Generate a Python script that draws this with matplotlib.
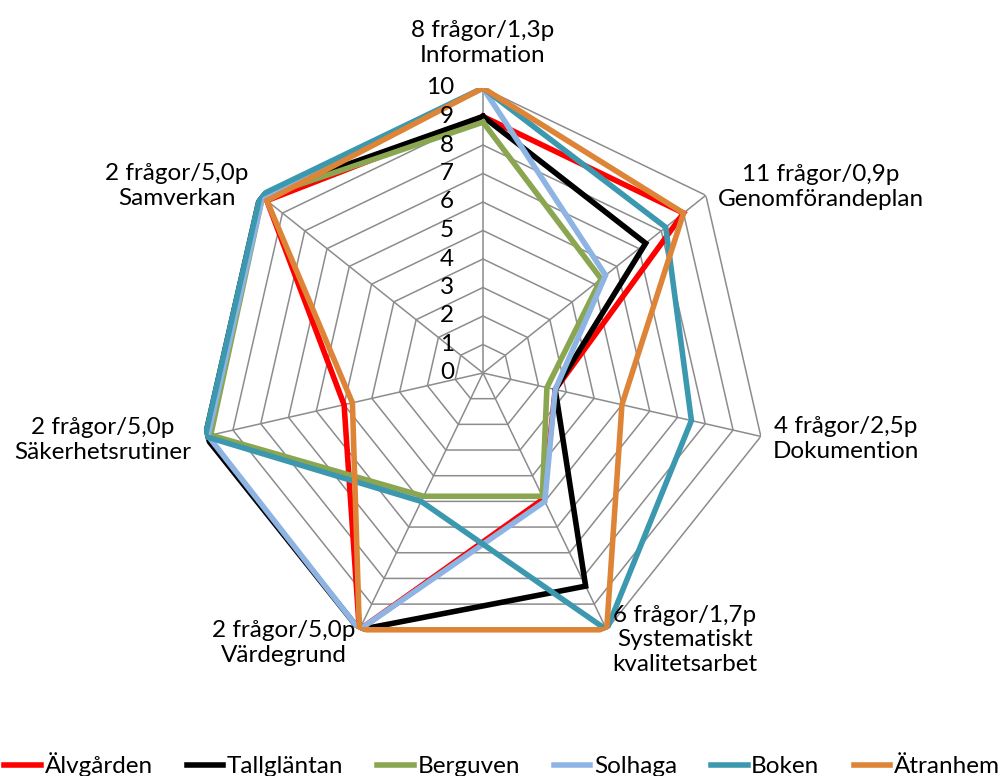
import numpy as np
import matplotlib
matplotlib.use("Agg")
import matplotlib.pyplot as plt
from matplotlib.transforms import offset_copy
from matplotlib.lines import Line2D

categories = ["Information", "Genomförandeplan", "Dokumention",
              "Systematiskt\nkvalitetsarbet", "Värdegrund", "Säkerhetsrutiner", "Samverkan"]
subtitles = ["8 frågor/1,3p", "11 frågor/0,9p", "4 frågor/2,5p", "6 frågor/1,7p",
             "2 frågor/5,0p", "2 frågor/5,0p", "2 frågor/5,0p"]
series_names = ["Älvgården", "Tallgläntan", "Berguven", "Solhaga", "Boken", "Ätranhem"]
alvgarden = [9.0, 9.0, 2.6, 4.9, 10, 5.0, 9.7]
tallglantan = [9.0, 7.3, 2.6, 8.3, 10, 10, 10]
berguven = [8.8, 5.3, 2.3, 4.8, 4.8, 9.8, 9.9]
solhaga = [10, 5.5, 2.6, 5.0, 10, 9.9, 9.9]
boken = [10, 8.2, 7.5, 10, 5.0, 10, 10]
atranhem = [10, 9.0, 5.0, 10, 10, 4.7, 9.7]
series_values = [alvgarden, tallglantan, berguven, solhaga, boken, atranhem]
colors = ["#FF0000", "#000000", "#8AA650", "#8EB4E3", "#3C98AF", "#DD8437"]
radial_ticks = list(range(0, 11))

FONT = ["Lato", "DejaVu Sans"]
plt.rcParams['font.family'] = FONT

W, H = 1004, 776
fig = plt.figure(figsize=(W / 100, H / 100), dpi=100)
cx, cy, R = 483, 373, 285
ax = fig.add_axes([(cx - R) / W, 1 - (cy + R) / H, 2 * R / W, 2 * R / H], projection='polar')
ax.set_theta_zero_location('N')
ax.set_theta_direction(-1)
ax.set_ylim(0, 10)
ax.grid(False)
ax.spines['polar'].set_visible(False)
ax.set_xticks([])
ax.set_yticks([])
ax.patch.set_alpha(0)

n = len(categories)
angles = np.arange(n) * 2 * np.pi / n
ang_closed = np.append(angles, angles[0])

grid_col = "#8C8C8C"
for r in radial_ticks[1:]:
    ax.plot(ang_closed, [r] * (n + 1), color=grid_col, lw=1.1, zorder=1)
for a in angles:
    ax.plot([a, a], [0, 10], color=grid_col, lw=1.1, zorder=1)

LW = 4.0
for vals, col in zip(series_values, colors):
    v = np.append(vals, vals[0])
    ax.plot(ang_closed, v, color=col, lw=LW, zorder=3, solid_joinstyle='miter')

fs = 17.5
tr = offset_copy(ax.transData, fig=fig, x=-29, y=0, units='dots')
for r in radial_ticks:
    ax.text(0, r, str(r), transform=tr, ha='right', va='center', fontsize=fs, zorder=5)

def fx(px):
    return px / W

def fy(py):
    return 1 - py / H

label_pos = [
    (483, 43),
    (821, 187),
    (846, 439),
    (685, 640),
    (284, 643),
    (103, 440),
    (177, 186),
]
for (x, y), sub, cat in zip(label_pos, subtitles, categories):
    fig.text(fx(x), fy(y), sub + "\n" + cat, ha='center', va='center', fontsize=fs,
             linespacing=1.2, multialignment='center')

handles = [Line2D([0], [0], color=c, lw=LW) for c in colors]
fig.legend(handles, series_names, loc='center', bbox_to_anchor=(0.5, fy(765)),
           ncol=6, frameon=False, fontsize=fs, handlelength=1.5, handletextpad=0.15,
           columnspacing=1.4, borderaxespad=0, borderpad=0)

fig.savefig("out.png", dpi=100)
